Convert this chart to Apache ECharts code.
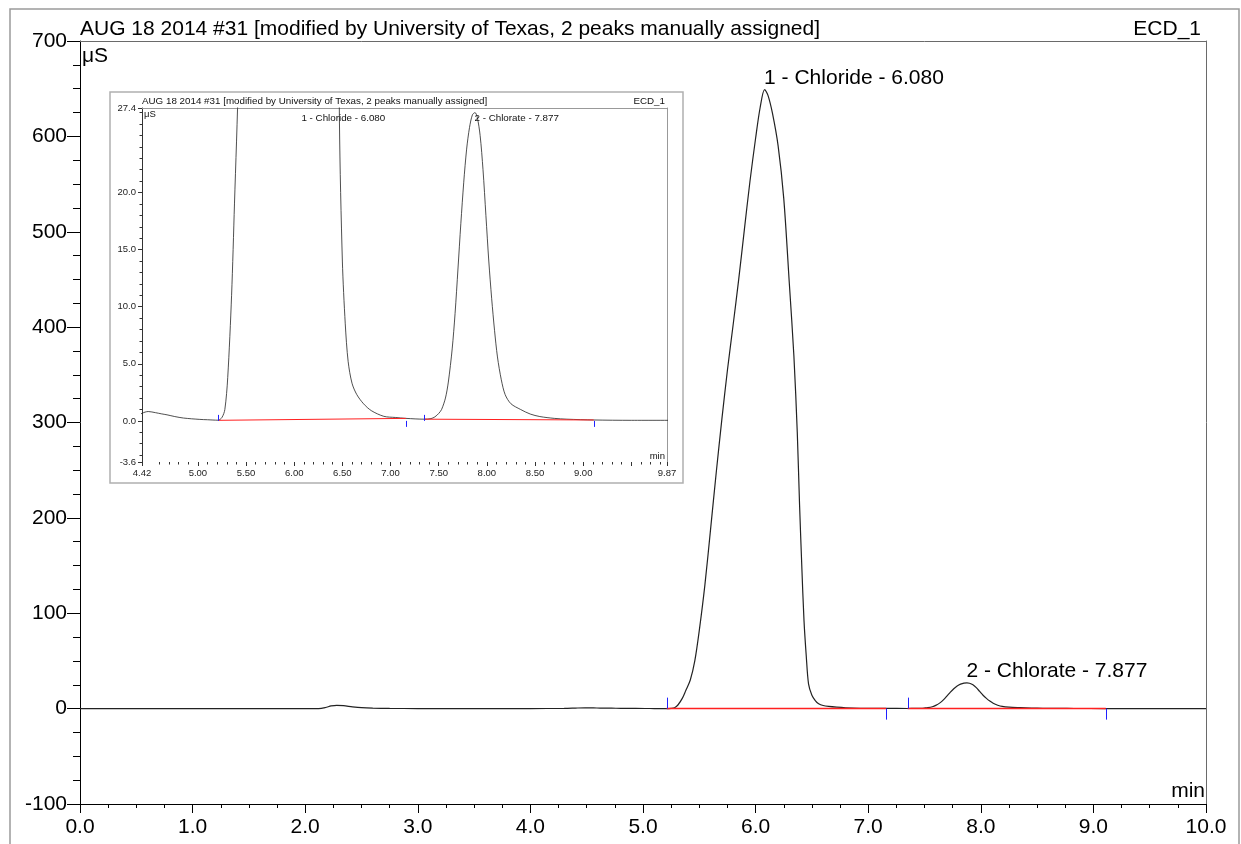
<!DOCTYPE html>
<html>
<head>
<meta charset="utf-8">
<script src="https://cdn.jsdelivr.net/npm/echarts@6/dist/echarts.min.js"></script>
<style>
html,body{margin:0;padding:0;background:#fff;}
#chart{width:1241px;height:844px;}
</style>
</head>
<body>
<div id="chart"></div>
<script>
// ---------- DATA ----------
const titleText = 'AUG 18 2014 #31 [modified by University of Texas, 2 peaks manually assigned]';
const channelName = 'ECD_1';
const yUnit = 'μS';
const xUnit = 'min';

// retention time (min)
const times = [
  0.00, 0.50, 1.00, 1.50, 2.00, 2.12, 2.18, 2.23, 2.28, 2.34, 2.42, 2.50, 2.60, 2.75, 3.00, 3.50,
  4.00, 4.30, 4.38, 4.42, 4.485, 4.56, 4.62, 4.68, 4.76, 4.85, 5.02, 5.10, 5.21,
  5.25, 5.28, 5.31, 5.35, 5.38, 5.42, 5.46, 5.50, 5.55, 5.60, 5.65, 5.70, 5.75, 5.80, 5.85,
  5.90, 5.95, 6.00, 6.04, 6.08, 6.11, 6.15, 6.20, 6.25, 6.30, 6.34, 6.37, 6.39, 6.41, 6.43,
  6.45, 6.47, 6.50, 6.53, 6.56, 6.60, 6.65, 6.72, 6.80, 6.93, 7.05, 7.16,
  7.35, 7.42, 7.46, 7.50, 7.53, 7.57, 7.60, 7.64, 7.67, 7.70, 7.73, 7.76, 7.79, 7.82, 7.85, 7.877,
  7.90, 7.93, 7.96, 7.99, 8.02, 8.05, 8.08, 8.11, 8.15, 8.19, 8.25, 8.35, 8.45, 8.55, 8.70, 8.83,
  9.11, 9.50, 10.00
];
// conductivity signal (μS)
const signal = [
  0, 0, 0, 0, 0, 0.1, 1.2, 2.8, 3.5, 3.1, 1.9, 1.0, 0.5, 0.2, 0.1, 0.05,
  0.1, 0.2, 0.45, 0.67, 0.82, 0.72, 0.62, 0.53, 0.38, 0.25, 0.13, 0.1, 0.06,
  0.3, 1.0, 3.8, 11, 19, 30, 50, 82, 130, 188, 247, 303, 355, 402, 450,
  502, 553, 598, 630, 649, 643, 624, 590, 535, 445, 370, 290, 215, 150, 92,
  55, 26, 14, 8.5, 5.2, 3.3, 2.3, 1.5, 0.9, 0.4, 0.3, 0.22,
  0.15, 0.2, 0.35, 0.65, 1.0, 2.0, 3.4, 6.3, 9.4, 13.3, 17.3, 20.9, 23.8, 25.7, 26.8, 27.0,
  26.6, 25.0, 22.0, 18.0, 14.0, 10.7, 7.9, 5.6, 3.6, 2.3, 1.5, 1.0, 0.6, 0.38, 0.22, 0.15,
  0.08, 0.05, 0.05
];

// peaks
const peakNumbers = [1, 2];
const peakNames = ['Chloride', 'Chlorate'];
const peakTimes = [6.080, 7.877];
const peakHeights = [649, 27.0];

// integration baselines (start / end)
const baseStartTimes = [5.21, 7.35];
const baseStartLevels = [0.05, 0.15];
const baseEndTimes = [7.16, 9.11];
const baseEndLevels = [0.22, 0.08];

// peak delimiter markers (1 = up, -1 = down)
const markerTimes = [5.21, 7.16, 7.35, 9.11];
const markerDirs = [1, -1, 1, -1];

// axes
const mainXMin = 0, mainXMax = 10, mainXStep = 1;
const mainYMin = -100, mainYMax = 700, mainYStep = 100;
const insetXMin = 4.42, insetXMax = 9.87;
const insetYMin = -3.6, insetYMax = 27.4;
const insetXLabels = [4.42, 5.00, 5.50, 6.00, 6.50, 7.00, 7.50, 8.00, 8.50, 9.00, 9.87];
const insetXMajorTicks = [4.42, 5.00, 5.50, 6.00, 6.50, 7.00, 7.50, 8.00, 8.50, 9.00, 9.50, 9.87];
const insetYLabels = [-3.6, 0.0, 5.0, 10.0, 15.0, 20.0, 27.4];
const insetYMinorTicks = [-3, -2, -1, 1, 2, 3, 4, 6, 7, 8, 9, 11, 12, 13, 14, 16, 17, 18, 19, 21, 22, 23, 24, 25, 26, 27];
const insetXMinorTicks = [];
for (let k = 45; k <= 98; k++) { if (k % 5 !== 0) insetXMinorTicks.push(k / 10); }

// ---------- BUILD ----------
const trace = times.map((t, i) => [t, signal[i]]);
const peakLabels = peakNumbers.map((n, i) => n + ' - ' + peakNames[i] + ' - ' + peakTimes[i].toFixed(3));
const markerData = markerTimes.map((t, i) => [t, 0, markerDirs[i]]);

const FONT = "'Liberation Sans', Arial, sans-serif";
const BIG = 21;
const SMALL = 9.8;
const chart = echarts.init(document.getElementById('chart'), null, { renderer: 'canvas' });

function plainAxis(gridIndex, position, min, max, color) {
  return {
    type: 'value', gridIndex, position, min, max,
    axisLine: { show: true, onZero: false, lineStyle: { color, width: 1 } },
    axisTick: { show: false }, axisLabel: { show: false }, splitLine: { show: false }
  };
}
function tickOnlyAxis(gridIndex, position, min, max, ticks, len) {
  return {
    type: 'value', gridIndex, position, min, max,
    axisLine: { show: false, onZero: false },
    axisTick: { show: true, customValues: ticks, length: len, lineStyle: { color: '#333', width: 1 } },
    axisLabel: { show: false }, splitLine: { show: false }
  };
}
function markerSeries(xi, yi, len) {
  return {
    type: 'custom', xAxisIndex: xi, yAxisIndex: yi, data: markerData, z: 6,
    encode: { x: 0, y: 1 },
    renderItem: (params, api) => {
      const p = api.coord([api.value(0), api.value(1)]);
      const d = api.value(2);
      return { type: 'line', shape: { x1: Math.round(p[0]) + 0.5, y1: p[1], x2: Math.round(p[0]) + 0.5, y2: p[1] - d * len },
               style: { stroke: '#2020ff', lineWidth: 1 } };
    }
  };
}
function baselineSeries(xi, yi, width) {
  return baseStartTimes.map((t, i) => ({
    type: 'line', xAxisIndex: xi, yAxisIndex: yi, symbol: 'none', z: 5,
    data: [[t, baseStartLevels[i]], [baseEndTimes[i], baseEndLevels[i]]],
    lineStyle: { color: '#ff2020', width }, silent: true
  }));
}
function labelSeries(xi, yi, data, offsetY, size, color) {
  return {
    type: 'scatter', xAxisIndex: xi, yAxisIndex: yi, symbol: 'circle', symbolSize: 1, clip: false, z: 7,
    itemStyle: { color: 'rgba(255,255,255,0)', opacity: 1 },
    emphasis: { disabled: true },
    data,
    label: { show: true, formatter: p => p.name, position: [0, offsetY], align: 'left', verticalAlign: 'middle',
             fontSize: size, color, opacity: 1, fontFamily: FONT }
  };
}

const option = {
  animation: false,
  backgroundColor: '#fff',
  textStyle: { fontFamily: FONT },
  grid: [
    { left: 80, top: 41, width: 1126, height: 763, containLabel: false },
    { left: 142, top: 108, width: 525, height: 354, containLabel: false, backgroundColor: '#fff', show: true, borderWidth: 0 }
  ],
  xAxis: [
    { // 0 main bottom
      type: 'value', gridIndex: 0, position: 'bottom', min: mainXMin, max: mainXMax, interval: mainXStep,
      axisLine: { show: true, onZero: false, lineStyle: { color: '#000', width: 1 } },
      axisTick: { show: true, length: 9, lineStyle: { color: '#000', width: 1 } },
      minorTick: { show: true, splitNumber: 4, length: 4, lineStyle: { color: '#000', width: 1 } },
      axisLabel: { fontSize: BIG, color: '#000', margin: 13, fontFamily: FONT, formatter: v => v.toFixed(1), showMaxLabel: true, showMinLabel: true },
      splitLine: { show: false }, minorSplitLine: { show: false }
    },
    plainAxis(0, 'top', mainXMin, mainXMax, '#6a6a6a'), // 1
    { // 2 inset bottom
      type: 'value', gridIndex: 1, position: 'bottom', min: insetXMin, max: insetXMax,
      axisLine: { show: false, onZero: false },
      axisTick: { show: true, customValues: insetXMajorTicks, length: 4, lineStyle: { color: '#333', width: 1 } },
      axisLabel: { show: true, customValues: insetXLabels, fontSize: 9.5, color: '#222', margin: 6, fontFamily: FONT, formatter: v => v.toFixed(2) },
      splitLine: { show: false }
    },
    tickOnlyAxis(1, 'bottom', insetXMin, insetXMax, insetXMinorTicks, 2.5), // 3
    plainAxis(1, 'top', insetXMin, insetXMax, '#999') // 4
  ],
  yAxis: [
    { // 0 main left
      type: 'value', gridIndex: 0, position: 'left', min: mainYMin, max: mainYMax, interval: mainYStep,
      axisLine: { show: true, onZero: false, lineStyle: { color: '#000', width: 1 } },
      axisTick: { show: true, length: 13, lineStyle: { color: '#000', width: 1 } },
      minorTick: { show: true, splitNumber: 4, length: 7, lineStyle: { color: '#000', width: 1 } },
      axisLabel: { fontSize: BIG, color: '#000', margin: 13, fontFamily: FONT, showMaxLabel: true, showMinLabel: true },
      splitLine: { show: false }, minorSplitLine: { show: false }
    },
    plainAxis(0, 'right', mainYMin, mainYMax, '#6a6a6a'), // 1
    { // 2 inset left
      type: 'value', gridIndex: 1, position: 'left', min: insetYMin, max: insetYMax,
      axisLine: { show: true, onZero: false, lineStyle: { color: '#333', width: 1 } },
      axisTick: { show: true, customValues: insetYLabels, length: 4, lineStyle: { color: '#333', width: 1 } },
      axisLabel: { show: true, customValues: insetYLabels, fontSize: 9.5, color: '#222', margin: 6, fontFamily: FONT, formatter: v => v.toFixed(1) },
      splitLine: { show: false }
    },
    tickOnlyAxis(1, 'left', insetYMin, insetYMax, insetYMinorTicks, 2.5), // 3
    plainAxis(1, 'right', insetYMin, insetYMax, '#999') // 4
  ],
  series: [
    {
      type: 'line', xAxisIndex: 0, yAxisIndex: 0, data: trace, symbol: 'none', showSymbol: false,
      smooth: 0.3, clip: true, z: 3,
      lineStyle: { color: '#222', width: 1.2 }, silent: true
    },
    ...baselineSeries(0, 0, 1.5),
    markerSeries(0, 0, 11),
    labelSeries(0, 0, peakTimes.map((t, i) => ({ value: [t, peakHeights[i]], name: peakLabels[i] })), -11, BIG, '#000'),
    // inset
    {
      type: 'line', xAxisIndex: 2, yAxisIndex: 2, data: trace, symbol: 'none', showSymbol: false,
      smooth: 0.3, clip: true, z: 3,
      lineStyle: { color: '#222', width: 0.8 }, silent: true
    },
    ...baselineSeries(2, 2, 1),
    markerSeries(2, 2, 6),
    labelSeries(2, 2, peakTimes.map((t, i) => ({ value: [t, insetYMax], name: peakLabels[i] })), 11, SMALL, '#111')
  ],
  graphic: [
    { type: 'rect', z: -10, silent: true, shape: { x: 10, y: 9, width: 1229, height: 860 },
      style: { fill: null, stroke: '#9a9a9a', lineWidth: 1.5 } },
    { type: 'rect', z: -5, silent: true, shape: { x: 110, y: 92, width: 573, height: 391 },
      style: { fill: '#fff', stroke: '#b0b0b0', lineWidth: 1.5 } },
    { type: 'text', x: 80, y: 29, silent: true,
      style: { text: titleText, font: BIG + 'px ' + FONT, fill: '#000', align: 'left', verticalAlign: 'middle' } },
    { type: 'text', x: 1201, y: 29, silent: true,
      style: { text: channelName, font: BIG + 'px ' + FONT, fill: '#000', align: 'right', verticalAlign: 'middle' } },
    { type: 'text', x: 82, y: 56, silent: true,
      style: { text: yUnit, font: BIG + 'px ' + FONT, fill: '#000', align: 'left', verticalAlign: 'middle' } },
    { type: 'text', x: 1205, y: 791, silent: true,
      style: { text: xUnit, font: BIG + 'px ' + FONT, fill: '#000', align: 'right', verticalAlign: 'middle' } },
    { type: 'text', x: 142, y: 101.5, silent: true,
      style: { text: titleText, font: SMALL + 'px ' + FONT, fill: '#111', align: 'left', verticalAlign: 'middle' } },
    { type: 'text', x: 665, y: 101.5, silent: true,
      style: { text: channelName, font: SMALL + 'px ' + FONT, fill: '#111', align: 'right', verticalAlign: 'middle' } },
    { type: 'text', x: 144, y: 114, silent: true,
      style: { text: yUnit, font: '9.5px ' + FONT, fill: '#111', align: 'left', verticalAlign: 'middle' } },
    { type: 'text', x: 665, y: 456, silent: true,
      style: { text: xUnit, font: '9.5px ' + FONT, fill: '#111', align: 'right', verticalAlign: 'middle' } }
  ]
};
chart.setOption(option);
</script>
</body>
</html>
